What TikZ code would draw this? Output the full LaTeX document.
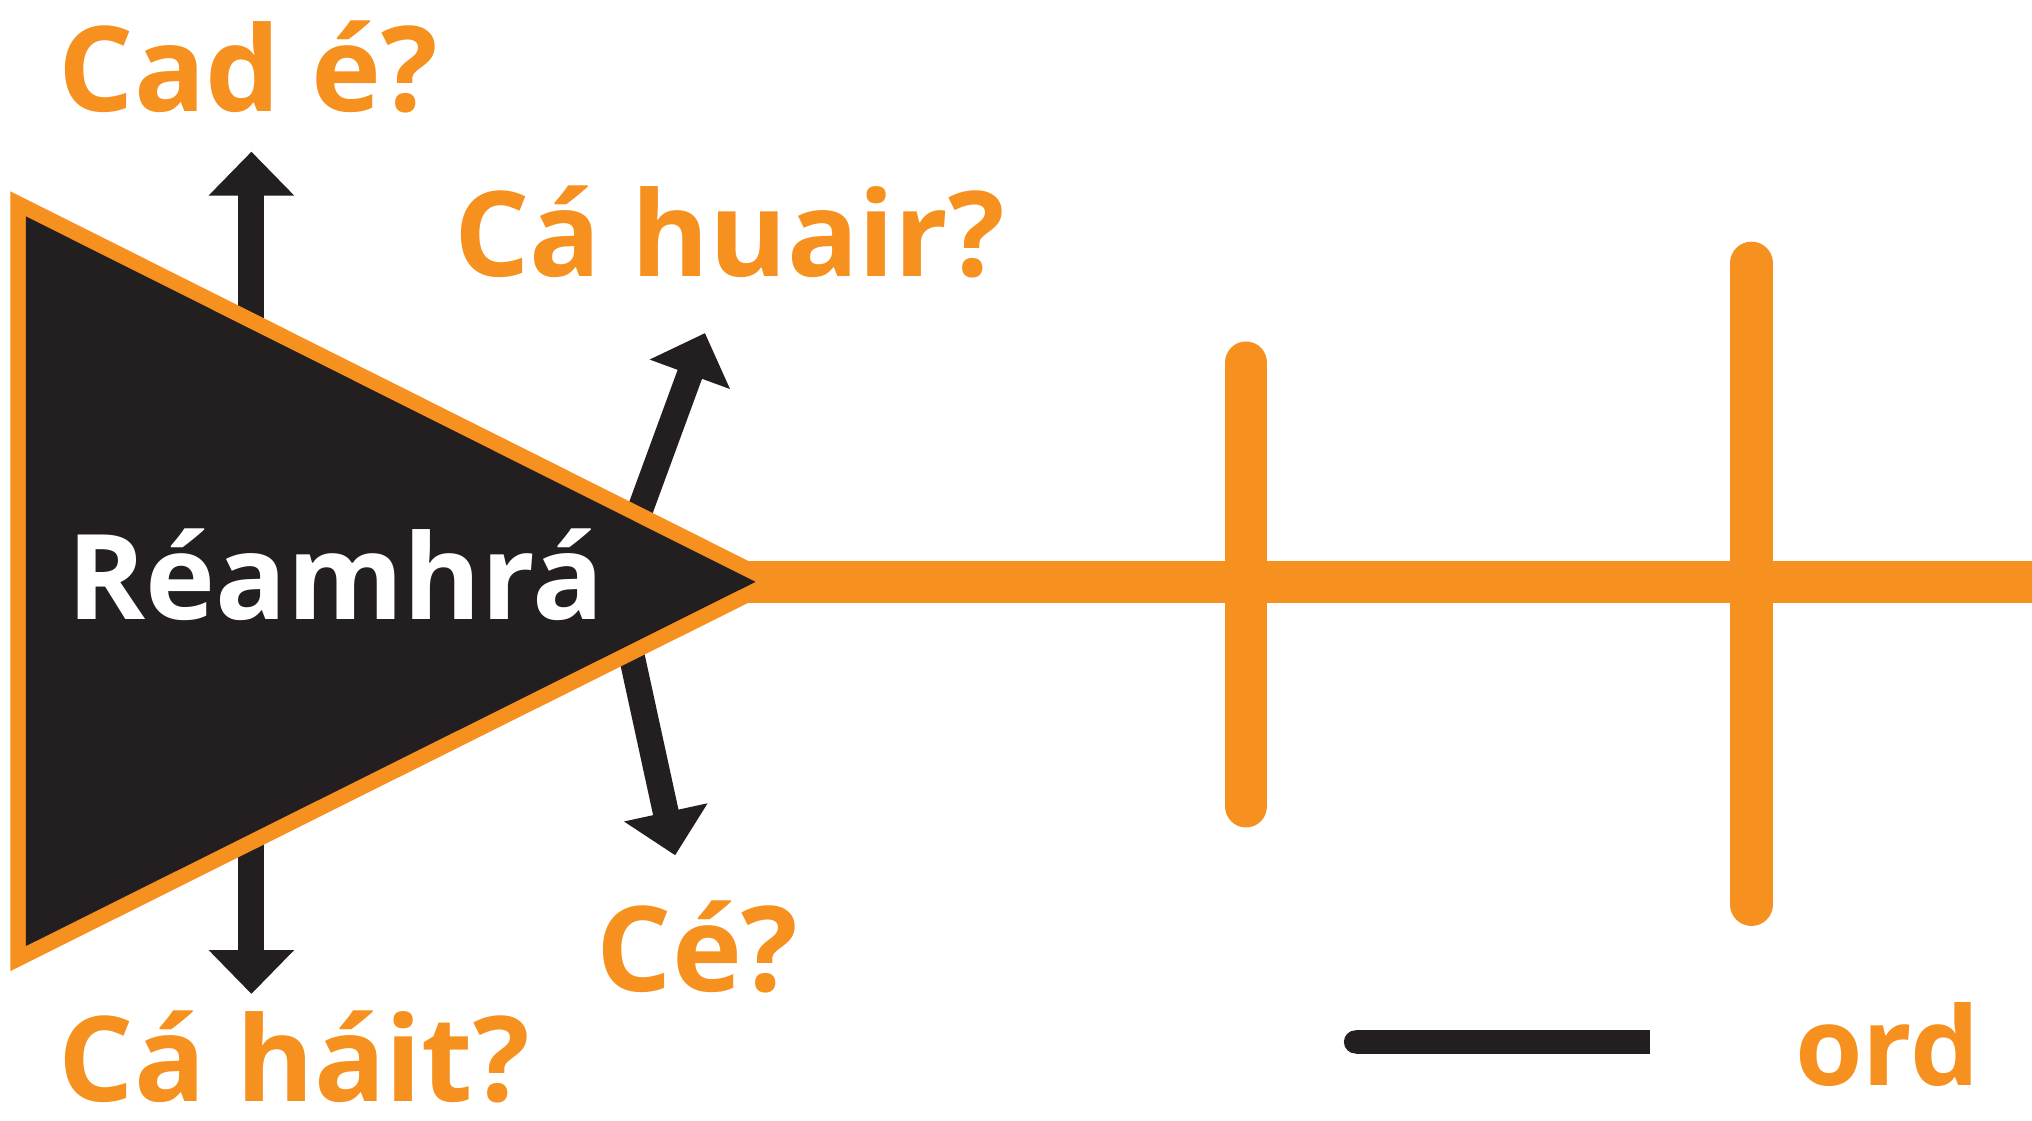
\documentclass[tikz,border=0pt]{standalone}
\usepackage{fontspec}
\setmainfont{Open Sans}
\usetikzlibrary{arrows.meta}
\definecolor{oraiste}{HTML}{F6901E}
\definecolor{dubh}{HTML}{231F20}
\tikzset{
  ceist/.style={anchor=base west, inner sep=0pt, text depth=0pt, text=oraiste, font=\fontsize{52}{60}\selectfont\bfseries},
  saighead/.style={draw=dubh, line width=11.4pt, -{Triangle[length=19.3pt, width=36.4pt]}},
  barra/.style={draw=oraiste, line width=18.8pt, line cap=round}
}
\begin{document}
\begin{tikzpicture}[x=0.02cm, y=-0.02cm]
\useasboundingbox (0,0) rectangle (1568,865);
\coordinate (tl) at (20,167);
\coordinate (bl) at (20,730);
\coordinate (tip) at (583,449);
\coordinate (upA) at (194,449);
\coordinate (upB) at (194,117);
\coordinate (dnA) at (194,449);
\coordinate (dnB) at (194,767);
\coordinate (urA) at (475,445);
\coordinate (urB) at (544,257);
\coordinate (drA) at (475,449);
\coordinate (drB) at (521,660);
\coordinate (axisL) at (572,449);
\coordinate (axisR) at (1570,449);
\coordinate (b1a) at (961.5,280);
\coordinate (b1b) at (961.5,622);
\coordinate (b2a) at (1351.5,203);
\coordinate (b2b) at (1351.5,698);
\coordinate (lineA) at (1046,804);
\coordinate (lineB) at (1273,804);
\draw[saighead] (upA) -- (upB);
\draw[saighead] (dnA) -- (dnB);
\draw[saighead] (urA) -- (urB);
\draw[saighead] (drA) -- (drB);
\draw[draw=oraiste, line width=18.2pt] (axisL) -- (axisR);
\draw[draw=oraiste, line width=13.6pt, line join=miter] (tl) -- (bl) -- (tip) -- cycle;
\fill[dubh] (tl) -- (bl) -- (tip) -- cycle;
\draw[barra] (b1a) -- (b1b);
\draw[barra] (b2a) -- (b2b);
\draw[draw=dubh, line width=10.2pt] (lineA) -- (lineB);
\fill[dubh] (lineA) circle[radius=9];
\node[ceist] (cade) at (45,86) {Cad é?};
\node[ceist] (cahuair) at (350,213) {Cá huair?};
\node[ceist, text=white] (reamhra) at (52,478) {Réamhrá};
\node[ceist] (ce) at (460,765) {Cé?};
\node[ceist] (cahait) at (45,850) {Cá háit?};
\node[ceist, font=\fontsize{48}{56}\selectfont\bfseries] (ord) at (1385,838) {ord};
\end{tikzpicture}
\end{document}
